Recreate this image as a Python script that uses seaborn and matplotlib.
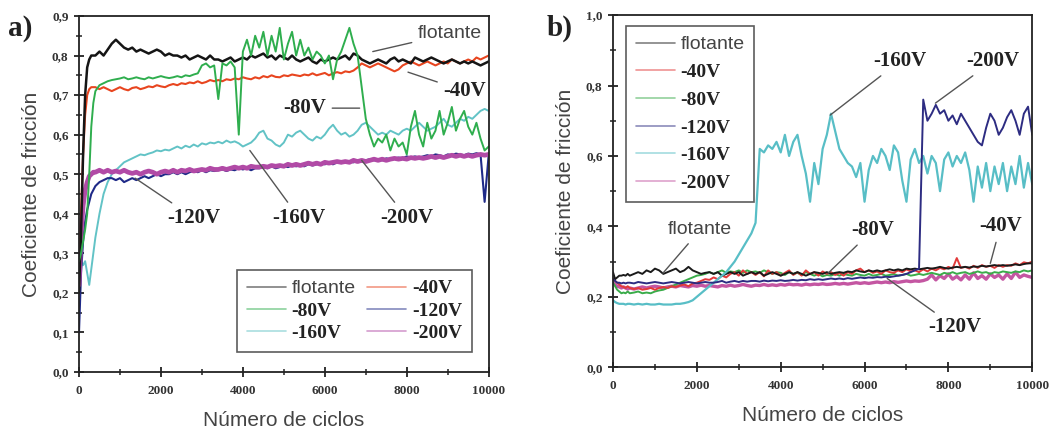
import matplotlib
matplotlib.use("Agg")
import matplotlib.pyplot as plt
from matplotlib.ticker import FuncFormatter, MultipleLocator
import seaborn as sns
import pandas as pd

# Sliding cycles shared by every friction curve
cycles = [0, 50, 100, 150, 200, 250, 300, 350] + list(range(400, 10001, 100))

labels = ["flotante", "-40V", "-80V", "-120V", "-160V", "-200V"]

# ---- Panel a) friction coefficient ----
a_flotante = [
    0.20, 0.35, 0.55, 0.70, 0.77, 0.79, 0.80, 0.80,
    0.80, 0.81, 0.80, 0.815, 0.83, 0.84, 0.83, 0.82, 0.815, 0.82,
    0.81, 0.815, 0.81, 0.805, 0.81, 0.815, 0.81, 0.80, 0.805, 0.80,
    0.80, 0.795, 0.80, 0.79, 0.795, 0.80, 0.795, 0.79, 0.80, 0.79,
    0.79, 0.785, 0.79, 0.795, 0.785, 0.79, 0.795, 0.79, 0.80, 0.795,
    0.80, 0.805, 0.795, 0.80, 0.79, 0.80, 0.795, 0.79, 0.80, 0.79,
    0.785, 0.79, 0.795, 0.785, 0.78, 0.79, 0.785, 0.79, 0.795, 0.79,
    0.795, 0.80, 0.79, 0.805, 0.80, 0.79, 0.785, 0.78, 0.785, 0.79,
    0.785, 0.78, 0.79, 0.795, 0.785, 0.79, 0.785, 0.78, 0.795, 0.79,
    0.785, 0.79, 0.795, 0.79, 0.785, 0.78, 0.785, 0.79, 0.785, 0.78,
    0.785, 0.78, 0.785, 0.78, 0.775, 0.78, 0.785,
]
a_m40 = [
    0.25, 0.40, 0.55, 0.65, 0.70, 0.715, 0.72, 0.72,
    0.72, 0.715, 0.72, 0.715, 0.71, 0.715, 0.72, 0.715, 0.712, 0.718,
    0.72, 0.715, 0.718, 0.722, 0.72, 0.725, 0.722, 0.72, 0.725, 0.728,
    0.725, 0.73, 0.728, 0.732, 0.73, 0.735, 0.73, 0.733, 0.738, 0.735,
    0.738, 0.735, 0.74, 0.738, 0.742, 0.74, 0.745, 0.742, 0.74, 0.745,
    0.742, 0.748, 0.745, 0.75, 0.746, 0.745, 0.75, 0.748, 0.752, 0.75,
    0.748, 0.752, 0.75, 0.755, 0.75, 0.753, 0.756, 0.75, 0.755, 0.758,
    0.755, 0.76, 0.758, 0.762, 0.77, 0.78, 0.775, 0.77, 0.775, 0.78,
    0.775, 0.77, 0.765, 0.76, 0.765, 0.775, 0.78, 0.785, 0.78, 0.775,
    0.78, 0.785, 0.78, 0.775, 0.78, 0.785, 0.78, 0.79, 0.785, 0.78,
    0.785, 0.79, 0.785, 0.795, 0.79, 0.795, 0.80,
]
a_m80 = [
    0.28, 0.30, 0.33, 0.36, 0.40, 0.50, 0.62, 0.68,
    0.71, 0.725, 0.73, 0.735, 0.738, 0.74, 0.742, 0.745, 0.74, 0.742,
    0.745, 0.742, 0.74, 0.745, 0.742, 0.745, 0.748, 0.745, 0.743, 0.745,
    0.748, 0.745, 0.75, 0.748, 0.752, 0.755, 0.775, 0.78, 0.77, 0.775,
    0.69, 0.78, 0.775, 0.785, 0.77, 0.60, 0.81, 0.84, 0.80, 0.85,
    0.82, 0.86, 0.80, 0.85, 0.81, 0.87, 0.79, 0.83, 0.86, 0.80,
    0.84, 0.80, 0.82, 0.79, 0.81, 0.80, 0.78, 0.80, 0.74, 0.79,
    0.81, 0.84, 0.87, 0.83, 0.80, 0.72, 0.64, 0.60, 0.57, 0.59,
    0.58, 0.60, 0.56, 0.59, 0.57, 0.58, 0.55, 0.62, 0.66, 0.60,
    0.57, 0.63, 0.59, 0.61, 0.66, 0.60, 0.63, 0.67, 0.61, 0.64,
    0.66, 0.62, 0.60, 0.63, 0.59, 0.56, 0.57,
]
a_m120 = [
    0.10, 0.25, 0.33, 0.38, 0.41, 0.43, 0.45, 0.46,
    0.47, 0.48, 0.485, 0.49, 0.49, 0.485, 0.49, 0.48, 0.485, 0.49,
    0.485, 0.49, 0.495, 0.49, 0.495, 0.50, 0.495, 0.50, 0.50, 0.505,
    0.50, 0.505, 0.50, 0.505, 0.508, 0.505, 0.51, 0.505, 0.51, 0.508,
    0.51, 0.512, 0.508, 0.512, 0.51, 0.515, 0.512, 0.515, 0.51, 0.515,
    0.515, 0.518, 0.515, 0.52, 0.515, 0.518, 0.52, 0.518, 0.522, 0.52,
    0.522, 0.52, 0.525, 0.522, 0.525, 0.528, 0.525, 0.528, 0.525, 0.53,
    0.528, 0.53, 0.532, 0.53, 0.535, 0.532, 0.535, 0.538, 0.535, 0.538,
    0.535, 0.54, 0.538, 0.54, 0.542, 0.54, 0.545, 0.542, 0.545, 0.542,
    0.545, 0.548, 0.545, 0.55, 0.548, 0.545, 0.55, 0.548, 0.552, 0.55,
    0.548, 0.552, 0.55, 0.553, 0.55, 0.43, 0.55,
]
a_m160 = [
    0.30, 0.28, 0.27, 0.28, 0.25, 0.22, 0.26, 0.30,
    0.34, 0.40, 0.45, 0.48, 0.50, 0.51, 0.52, 0.53, 0.535, 0.54,
    0.545, 0.55, 0.548, 0.552, 0.555, 0.56, 0.558, 0.562, 0.56, 0.565,
    0.57, 0.565, 0.572, 0.568, 0.575, 0.57, 0.578, 0.575, 0.58, 0.578,
    0.582, 0.578, 0.585, 0.58, 0.583, 0.578, 0.57, 0.575, 0.58, 0.59,
    0.605, 0.61, 0.59, 0.585, 0.575, 0.57, 0.58, 0.60, 0.595, 0.605,
    0.61, 0.60, 0.59, 0.585, 0.595, 0.59, 0.60, 0.615, 0.625, 0.61,
    0.60, 0.605, 0.595, 0.60, 0.61, 0.625, 0.63, 0.62, 0.61, 0.60,
    0.605, 0.60, 0.61, 0.605, 0.60, 0.61, 0.615, 0.61, 0.62, 0.63,
    0.62, 0.61, 0.615, 0.62, 0.63, 0.64, 0.625, 0.62, 0.63, 0.64,
    0.635, 0.645, 0.64, 0.65, 0.66, 0.665, 0.66,
]
a_m200 = [
    0.22, 0.35, 0.42, 0.46, 0.48, 0.495, 0.50, 0.505,
    0.505, 0.51, 0.505, 0.51, 0.505, 0.508, 0.505, 0.51, 0.505, 0.502,
    0.505, 0.50, 0.505, 0.508, 0.505, 0.50, 0.505, 0.508, 0.505, 0.51,
    0.505, 0.51, 0.508, 0.512, 0.508, 0.51, 0.512, 0.51, 0.515, 0.512,
    0.512, 0.515, 0.512, 0.515, 0.518, 0.515, 0.518, 0.515, 0.52, 0.518,
    0.518, 0.52, 0.518, 0.522, 0.52, 0.522, 0.52, 0.525, 0.522, 0.525,
    0.522, 0.525, 0.528, 0.525, 0.528, 0.525, 0.53, 0.528, 0.53, 0.532,
    0.53, 0.532, 0.53, 0.535, 0.532, 0.535, 0.532, 0.535, 0.538, 0.535,
    0.538, 0.535, 0.538, 0.54, 0.538, 0.54, 0.538, 0.542, 0.54, 0.542,
    0.54, 0.542, 0.545, 0.542, 0.545, 0.542, 0.545, 0.548, 0.545, 0.548,
    0.545, 0.548, 0.545, 0.548, 0.55, 0.548, 0.55,
]

# ---- Panel b) friction coefficient ----
b_flotante = [
    0.27, 0.25, 0.255, 0.26, 0.26, 0.262, 0.26, 0.265,
    0.26, 0.265, 0.27, 0.265, 0.275, 0.27, 0.28, 0.275, 0.265, 0.27,
    0.275, 0.28, 0.27, 0.275, 0.285, 0.275, 0.27, 0.265, 0.268, 0.27,
    0.265, 0.27, 0.26, 0.265, 0.27, 0.265, 0.27, 0.26, 0.265, 0.27,
    0.265, 0.27, 0.26, 0.265, 0.27, 0.265, 0.26, 0.265, 0.27, 0.265,
    0.27, 0.265, 0.26, 0.265, 0.27, 0.268, 0.265, 0.27, 0.265, 0.268,
    0.27, 0.268, 0.272, 0.27, 0.275, 0.272, 0.27, 0.275, 0.272, 0.275,
    0.272, 0.275, 0.278, 0.275, 0.278, 0.275, 0.28, 0.278, 0.28, 0.278,
    0.28, 0.282, 0.28, 0.282, 0.285, 0.282, 0.28, 0.283, 0.285, 0.283,
    0.285, 0.283, 0.286, 0.285, 0.288, 0.286, 0.288, 0.29, 0.288, 0.29,
    0.288, 0.29, 0.292, 0.29, 0.293, 0.295, 0.295,
]
b_m40 = [
    0.25, 0.245, 0.24, 0.235, 0.23, 0.228, 0.225, 0.23,
    0.225, 0.222, 0.225, 0.22, 0.222, 0.225, 0.22, 0.225, 0.228, 0.225,
    0.23, 0.228, 0.232, 0.235, 0.23, 0.238, 0.24, 0.245, 0.25, 0.248,
    0.255, 0.25, 0.26, 0.255, 0.265, 0.27, 0.26, 0.275, 0.265, 0.27,
    0.262, 0.27, 0.258, 0.275, 0.265, 0.27, 0.26, 0.268, 0.275, 0.262,
    0.27, 0.26, 0.275, 0.265, 0.27, 0.26, 0.272, 0.265, 0.27, 0.262,
    0.268, 0.26, 0.27, 0.265, 0.275, 0.28, 0.27, 0.275, 0.268, 0.272,
    0.265, 0.275, 0.27, 0.268, 0.275, 0.27, 0.278, 0.272, 0.275, 0.27,
    0.278, 0.272, 0.28, 0.275, 0.282, 0.278, 0.285, 0.28, 0.31, 0.282,
    0.285, 0.28, 0.288, 0.282, 0.29, 0.285, 0.288, 0.282, 0.29, 0.285,
    0.29, 0.288, 0.295, 0.29, 0.298, 0.295, 0.30,
]
b_m80 = [
    0.24, 0.23, 0.22, 0.215, 0.21, 0.212, 0.21, 0.215,
    0.21, 0.212, 0.215, 0.21, 0.212, 0.21, 0.215, 0.218, 0.22, 0.225,
    0.23, 0.235, 0.24, 0.245, 0.25, 0.255, 0.26, 0.262, 0.265, 0.27,
    0.265, 0.27, 0.275, 0.268, 0.272, 0.27, 0.275, 0.268, 0.275, 0.27,
    0.272, 0.268, 0.275, 0.27, 0.265, 0.27, 0.268, 0.262, 0.27, 0.265,
    0.268, 0.262, 0.27, 0.265, 0.26, 0.265, 0.258, 0.262, 0.26, 0.265,
    0.26, 0.265, 0.262, 0.26, 0.265, 0.262, 0.26, 0.265, 0.26, 0.262,
    0.265, 0.26, 0.262, 0.265, 0.26, 0.262, 0.265, 0.26, 0.262, 0.265,
    0.262, 0.265, 0.268, 0.265, 0.262, 0.268, 0.265, 0.27, 0.265, 0.268,
    0.27, 0.265, 0.268, 0.272, 0.268, 0.27, 0.265, 0.27, 0.268, 0.272,
    0.27, 0.268, 0.272, 0.27, 0.275, 0.272, 0.275,
]
b_m120 = [
    0.25, 0.245, 0.24, 0.24, 0.238, 0.24, 0.238, 0.24,
    0.24, 0.238, 0.242, 0.24, 0.238, 0.24, 0.242, 0.24, 0.238, 0.24,
    0.242, 0.24, 0.238, 0.24, 0.242, 0.24, 0.238, 0.24, 0.242, 0.24,
    0.24, 0.242, 0.245, 0.24, 0.243, 0.245, 0.242, 0.245, 0.243, 0.245,
    0.245, 0.243, 0.246, 0.244, 0.246, 0.245, 0.247, 0.245, 0.246, 0.248,
    0.246, 0.248, 0.247, 0.25, 0.248, 0.25, 0.248, 0.25, 0.252, 0.25,
    0.252, 0.25, 0.253, 0.251, 0.253, 0.255, 0.253, 0.255, 0.254, 0.256,
    0.255, 0.257, 0.256, 0.258, 0.26, 0.262, 0.265, 0.27, 0.275, 0.28,
    0.76, 0.70, 0.72, 0.745, 0.72, 0.73, 0.70, 0.715, 0.69, 0.72,
    0.70, 0.68, 0.66, 0.64, 0.63, 0.68, 0.72, 0.70, 0.66, 0.68,
    0.71, 0.73, 0.70, 0.66, 0.72, 0.74, 0.66,
]
b_m160 = [
    0.19, 0.185, 0.182, 0.18, 0.18, 0.18, 0.178, 0.18,
    0.18, 0.178, 0.18, 0.178, 0.18, 0.178, 0.178, 0.18, 0.178, 0.178,
    0.178, 0.18, 0.18, 0.182, 0.185, 0.19, 0.20, 0.21, 0.22, 0.23,
    0.24, 0.25, 0.26, 0.27, 0.285, 0.30, 0.32, 0.34, 0.36, 0.38,
    0.41, 0.62, 0.61, 0.63, 0.62, 0.64, 0.61, 0.66, 0.60, 0.64,
    0.66, 0.60, 0.55, 0.47, 0.58, 0.52, 0.62, 0.66, 0.72, 0.67,
    0.62, 0.60, 0.58, 0.57, 0.54, 0.58, 0.47, 0.56, 0.60, 0.58,
    0.62, 0.60, 0.56, 0.63, 0.61, 0.53, 0.47, 0.59, 0.62, 0.58,
    0.60, 0.55, 0.60, 0.58, 0.50, 0.59, 0.61, 0.57, 0.60, 0.58,
    0.61, 0.56, 0.47, 0.57, 0.51, 0.58, 0.50, 0.57, 0.52, 0.58,
    0.50, 0.57, 0.52, 0.60, 0.51, 0.58, 0.52,
]
b_m200 = [
    0.24, 0.235, 0.23, 0.228, 0.225, 0.228, 0.225, 0.222,
    0.225, 0.222, 0.225, 0.228, 0.225, 0.228, 0.23, 0.228, 0.225, 0.228,
    0.23, 0.228, 0.232, 0.23, 0.228, 0.232, 0.23, 0.233, 0.23, 0.232,
    0.23, 0.228, 0.232, 0.23, 0.233, 0.23, 0.232, 0.235, 0.232, 0.23,
    0.233, 0.232, 0.235, 0.232, 0.234, 0.232, 0.235, 0.233, 0.236, 0.234,
    0.235, 0.233, 0.236, 0.234, 0.236, 0.235, 0.237, 0.235, 0.236, 0.238,
    0.236, 0.238, 0.236, 0.238, 0.24, 0.238, 0.24, 0.238, 0.24, 0.242,
    0.24, 0.242, 0.24, 0.243, 0.241, 0.243, 0.245, 0.243, 0.245, 0.244,
    0.246, 0.25, 0.262, 0.248, 0.26, 0.252, 0.265, 0.25, 0.258, 0.248,
    0.262, 0.25, 0.268, 0.252, 0.26, 0.25, 0.265, 0.255, 0.262, 0.25,
    0.265, 0.252, 0.27, 0.255, 0.262, 0.258, 0.255,
]

colors_a = ["#151515", "#e8451f", "#2fae4e", "#1f2a88", "#62c3c6", "#b14aa6"]
colors_b = ["#1a1a1a", "#e23a3a", "#3aac4a", "#2d2c82", "#58bec6", "#c456a2"]

df_a = pd.DataFrame({"ciclos": cycles * 6,
                     "mu": a_flotante + a_m40 + a_m80 + a_m120 + a_m160 + a_m200,
                     "serie": sum([[l] * len(cycles) for l in labels], [])})
df_b = pd.DataFrame({"ciclos": cycles * 6,
                     "mu": b_flotante + b_m40 + b_m80 + b_m120 + b_m160 + b_m200,
                     "serie": sum([[l] * len(cycles) for l in labels], [])})

sns.set_style("ticks")
plt.rcParams["font.family"] = ["Liberation Sans", "DejaVu Sans"]

SERIF = ["Liberation Serif", "DejaVu Serif"]
SANS = ["Liberation Sans", "DejaVu Sans"]
TXT = "#444444"

fig = plt.figure(figsize=(10.56, 4.32), dpi=100)
ax_a = fig.add_axes([0.0748, 0.139, 0.388, 0.824])
ax_b = fig.add_axes([0.5805, 0.150, 0.397, 0.815])


def draw(ax, df, colors, widths, order):
    for name in order:
        i = labels.index(name)
        sns.lineplot(data=df[df["serie"] == name], x="ciclos", y="mu", ax=ax,
                     color=colors[i], lw=widths[i], label=name,
                     estimator=None, sort=False)


draw(ax_a, df_a, colors_a, [1.8, 1.5, 1.4, 1.5, 1.4, 3.4],
     ["-160V", "-120V", "-200V", "-40V", "flotante", "-80V"])
draw(ax_b, df_b, colors_b, [1.4, 1.4, 1.4, 1.4, 1.6, 2.4],
     ["-200V", "-80V", "-40V", "flotante", "-160V", "-120V"])

comma = FuncFormatter(lambda v, p: f"{v:.1f}".replace(".", ","))


def style(ax, ymax, ymajor):
    ax.set_xlim(0, 10000)
    ax.set_ylim(0, ymax)
    ax.xaxis.set_major_locator(MultipleLocator(2000))
    ax.xaxis.set_minor_locator(MultipleLocator(1000))
    ax.yaxis.set_major_locator(MultipleLocator(ymajor))
    ax.yaxis.set_minor_locator(MultipleLocator(ymajor / 2))
    ax.yaxis.set_major_formatter(comma)
    for s in ax.spines.values():
        s.set_color("#222222")
        s.set_linewidth(1.3)
    ax.tick_params(which="major", direction="inout", length=7, width=1.3,
                   color="#222222", top=False, right=False)
    ax.tick_params(which="minor", direction="inout", length=5, width=1.1,
                   color="#222222", top=False, right=False)
    ax.tick_params(axis="x", pad=6)
    ax.tick_params(axis="y", pad=4)
    for t in ax.get_xticklabels() + ax.get_yticklabels():
        t.set_fontfamily(SERIF)
        t.set_fontweight("bold")
        t.set_fontsize(9.5)
        t.set_color("#333333")
    ax.set_xlabel("Número de ciclos", fontsize=15, color=TXT, family=SANS, labelpad=10)
    ax.set_ylabel("Coeficiente de fricción", fontsize=15, color=TXT, family=SANS, labelpad=8)


style(ax_a, 0.9, 0.1)
style(ax_b, 1.0, 0.2)


def legend(ax, ncol, loc, anchor, spacing, order):
    handles, labs = ax.get_legend_handles_labels()
    lookup = dict(zip(labs, handles))
    leg = ax.legend([lookup[n] for n in order], order, ncol=ncol, loc=loc,
                    bbox_to_anchor=anchor, frameon=True, fancybox=False,
                    fontsize=14, handlelength=2.0, handletextpad=0.3,
                    columnspacing=0.6, labelspacing=spacing,
                    borderpad=0.5, borderaxespad=0)
    leg.get_frame().set_edgecolor("#333333")
    leg.get_frame().set_linewidth(1.2)
    for h in leg.get_lines():
        h.set_linewidth(1.2)
        h.set_alpha(0.55)
    for t in leg.get_texts():
        if t.get_text() == "flotante":
            t.set_fontfamily(SANS)
            t.set_color(TXT)
        else:
            t.set_fontfamily(SERIF)
            t.set_fontweight("bold")
            t.set_color("#222222")
    return leg


# two columns filled column by column, so list them to read row by row
legend(ax_a, 2, "lower right", (0.959, 0.056), 0.25,
       ["flotante", "-80V", "-160V", "-40V", "-120V", "-200V"])
legend(ax_b, 1, "upper left", (0.031, 0.969), 0.52, labels)

LINE = dict(arrowstyle="-", color="#555555", lw=1.0, shrinkA=2, shrinkB=0)


def note(ax, text, xy, xytext, sans=False):
    kw = dict(family=SANS, color=TXT, fontsize=14) if sans else \
        dict(family=SERIF, fontweight="bold", color="#222222", fontsize=15)
    ax.annotate(text, xy=xy, xytext=xytext, ha="center", va="center",
                arrowprops=LINE, **kw)


# Panel a) curve labels
note(ax_a, "flotante", (7170, 0.81), (9050, 0.855), sans=True)
note(ax_a, "-40V", (8030, 0.758), (9410, 0.71))
note(ax_a, "-80V", (6850, 0.667), (5510, 0.667))
note(ax_a, "-120V", (1370, 0.49), (2800, 0.39))
note(ax_a, "-160V", (4170, 0.56), (5370, 0.39))
note(ax_a, "-200V", (6900, 0.535), (8000, 0.39))

# Panel b) curve labels
note(ax_b, "flotante", (1190, 0.267), (2080, 0.39), sans=True)
note(ax_b, "-160V", (5180, 0.716), (6850, 0.87))
note(ax_b, "-200V", (7690, 0.75), (9070, 0.87))
note(ax_b, "-80V", (5130, 0.267), (6200, 0.39))
note(ax_b, "-40V", (9000, 0.295), (9240, 0.40))
note(ax_b, "-120V", (6540, 0.252), (8160, 0.114))

fig.text(0.008, 0.965, "a)", fontsize=21, fontweight="bold", family=SERIF,
         color="#222222", va="top", ha="left")
fig.text(0.518, 0.965, "b)", fontsize=21, fontweight="bold", family=SERIF,
         color="#222222", va="top", ha="left")

fig.savefig("out.png", dpi=100)
